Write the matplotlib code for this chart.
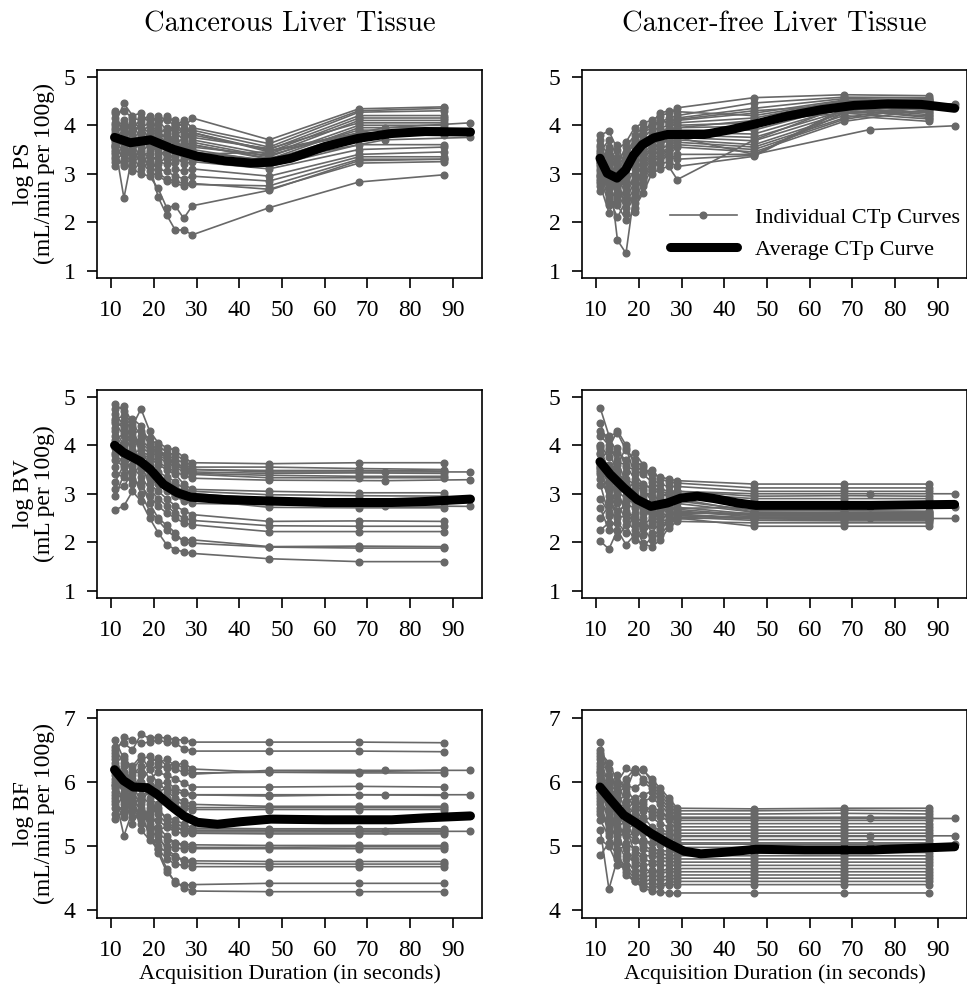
import matplotlib
matplotlib.use("Agg")
import matplotlib.pyplot as plt

plt.rcParams['font.family'] = ['Liberation Serif', 'DejaVu Serif']

# acquisition times (seconds)
T = [11, 13, 15, 17, 19, 21, 23, 25, 27, 29, 47, 68, 88]
T_LONG = [11, 13, 15, 17, 19, 21, 23, 25, 27, 29, 47, 74, 94]

# ---------------- log PS, cancerous ----------------
ps_cancer = [
    [4.25, 4.30, 4.15, 4.10, 4.20, 4.05, 4.15, 4.10, 3.95, 4.15, 3.70, 4.34, 4.38],
    [4.05, 4.45, 4.20, 4.25, 4.05, 4.20, 4.10, 4.00, 4.10, 3.95, 3.62, 4.30, 4.35],
    [3.95, 4.10, 3.90, 4.15, 4.10, 3.95, 4.20, 4.05, 3.85, 3.90, 3.55, 4.27, 4.30],
    [4.15, 3.85, 4.05, 3.95, 3.85, 4.10, 3.90, 3.95, 4.05, 3.80, 3.50, 4.20, 4.20],
    [3.85, 4.00, 3.75, 3.85, 4.00, 3.80, 3.95, 3.85, 3.70, 3.85, 3.45, 4.15, 4.15],
    [3.70, 3.95, 4.05, 3.70, 3.75, 3.90, 3.70, 3.80, 3.90, 3.70, 3.40, 4.10, 4.10],
    [4.30, 3.75, 3.85, 4.05, 3.65, 3.70, 3.85, 3.60, 3.75, 3.75, 3.52, 4.05, 4.05],
    [3.60, 3.80, 3.65, 3.55, 3.90, 3.60, 3.75, 3.70, 3.55, 3.65, 3.35, 4.00, 4.00],
    [3.90, 3.65, 3.55, 3.80, 3.50, 3.75, 3.55, 3.50, 3.65, 3.60, 3.30, 3.95, 3.95],
    [3.50, 3.70, 3.95, 3.45, 3.60, 3.50, 3.65, 3.45, 3.50, 3.55, 3.38, 3.90, 3.90],
    [3.75, 3.55, 3.45, 3.65, 3.80, 3.40, 3.45, 3.55, 3.40, 3.45, 3.28, 3.85, 3.85],
    [3.45, 3.40, 3.60, 3.35, 3.45, 3.55, 3.30, 3.40, 3.35, 3.40, 3.45, 3.82, 3.80],
    [3.35, 3.60, 3.30, 3.50, 3.30, 3.35, 3.50, 3.25, 3.30, 3.30, 3.15, 3.60, 3.60],
    [3.65, 3.25, 3.50, 3.20, 3.40, 3.25, 3.20, 3.35, 3.20, 3.25, 3.10, 3.50, 3.55],
    [3.25, 3.45, 3.20, 3.40, 3.15, 3.20, 3.35, 3.10, 3.05, 3.10, 2.95, 3.40, 3.45],
    [3.40, 3.15, 3.35, 3.10, 3.25, 3.10, 3.05, 2.95, 2.90, 2.95, 2.85, 3.35, 3.35],
    [3.15, 3.30, 3.05, 3.25, 3.05, 2.95, 2.85, 2.80, 2.75, 2.78, 2.75, 3.30, 3.30],
    [3.55, 2.50, 3.40, 3.30, 3.20, 3.00, 2.90, 2.85, 2.80, 2.80, 2.68, 3.22, 3.25],
    [3.60, 3.50, 3.45, 3.35, 3.20, 2.52, 2.15, 1.84, 1.84, 1.74, 2.30, 2.83, 2.98],
    [3.30, 3.20, 3.10, 3.00, 2.95, 2.70, 2.30, 2.34, 2.08, 2.34, 2.66, 3.27, 3.30],
]
ps_cancer_long = [
    [3.80, 4.00, 3.90, 3.95, 4.05, 3.85, 3.90, 4.00, 3.80, 3.85, 3.48, 3.95, 4.05],
    [3.55, 3.75, 3.70, 3.60, 3.75, 3.65, 3.60, 3.70, 3.50, 3.60, 3.32, 3.80, 3.88],
    [4.00, 3.85, 3.60, 3.75, 3.55, 3.80, 3.65, 3.55, 3.60, 3.50, 3.25, 3.70, 3.75],
]
ps_cancer_avg_t = [10.8, 14.5, 19.2, 24.7, 30.2, 36.4, 42.7, 47.4, 52.1, 60.0, 67.8, 75.6, 83.5, 94.1]
ps_cancer_avg = [3.75, 3.64, 3.70, 3.50, 3.36, 3.27, 3.22, 3.24, 3.32, 3.56, 3.73, 3.83, 3.87, 3.86]

# ---------------- log PS, cancer-free ----------------
ps_free = [
    [3.80, 3.88, 3.50, 3.65, 3.95, 4.05, 4.10, 4.20, 4.25, 4.36, 4.57, 4.63, 4.61],
    [3.60, 3.40, 3.20, 3.55, 3.80, 3.95, 4.00, 4.05, 4.15, 4.20, 4.46, 4.58, 4.57],
    [3.45, 3.70, 3.35, 3.30, 3.70, 3.85, 3.95, 4.10, 4.05, 4.15, 4.35, 4.55, 4.53],
    [3.30, 3.15, 3.60, 3.10, 3.55, 3.75, 3.90, 3.95, 4.00, 4.10, 4.25, 4.52, 4.50],
    [3.20, 3.50, 3.00, 3.40, 3.45, 3.70, 3.80, 3.85, 3.95, 4.05, 4.15, 4.50, 4.46],
    [3.10, 2.90, 3.25, 2.95, 3.30, 3.60, 3.75, 3.90, 3.85, 4.00, 4.05, 4.48, 4.41],
    [3.00, 3.25, 2.80, 3.20, 3.20, 3.50, 3.65, 3.75, 3.90, 3.95, 3.98, 4.45, 4.36],
    [2.90, 2.70, 3.05, 2.75, 3.10, 3.40, 3.60, 3.70, 3.80, 3.90, 3.90, 4.40, 4.31],
    [3.35, 3.05, 2.60, 3.00, 3.00, 3.30, 3.50, 3.65, 3.70, 3.85, 3.82, 4.36, 4.26],
    [2.80, 3.30, 2.90, 2.60, 2.90, 3.20, 3.45, 3.55, 3.75, 3.80, 3.75, 4.30, 4.19],
    [3.70, 2.80, 2.70, 2.85, 2.80, 3.10, 3.35, 3.50, 3.60, 3.75, 3.68, 4.25, 4.13],
    [2.65, 3.00, 2.50, 2.40, 2.70, 3.05, 3.30, 3.40, 3.55, 3.70, 3.60, 4.20, 4.08],
    [3.15, 2.60, 2.95, 2.20, 2.55, 2.95, 3.25, 3.35, 3.50, 3.65, 3.55, 4.15, 4.45],
    [2.95, 2.35, 2.75, 2.50, 2.40, 2.85, 3.15, 3.30, 3.45, 3.60, 3.50, 4.12, 4.40],
    [3.55, 3.20, 2.35, 2.05, 2.22, 2.75, 3.10, 3.25, 3.40, 3.55, 3.45, 4.08, 4.33],
    [2.75, 2.20, 2.55, 2.30, 2.60, 3.15, 3.40, 3.45, 3.30, 3.40, 3.40, 4.25, 4.28],
    [3.40, 2.50, 2.10, 2.45, 2.85, 3.25, 3.55, 3.60, 3.35, 3.30, 3.38, 4.35, 4.22],
    [2.85, 3.10, 1.63, 1.36, 2.65, 2.90, 3.20, 3.20, 3.25, 3.15, 3.36, 4.32, 4.16],
    [3.05, 2.45, 2.40, 2.70, 2.30, 2.60, 3.00, 3.10, 3.15, 2.88, 3.70, 4.40, 4.50],
    [3.25, 2.75, 2.85, 3.35, 3.65, 3.85, 4.05, 4.25, 4.30, 4.28, 4.20, 4.50, 4.55],
]
ps_free_long = [
    [3.50, 3.30, 3.10, 3.45, 3.70, 3.90, 4.00, 4.10, 4.05, 4.12, 4.30, 4.45, 4.44],
    [3.25, 3.55, 3.15, 2.90, 3.35, 3.55, 3.70, 3.80, 3.85, 3.95, 4.10, 4.29, 4.37],
    [2.95, 2.70, 3.00, 2.65, 2.95, 3.35, 3.55, 3.60, 3.70, 3.75, 3.40, 3.91, 3.99],
]
ps_free_avg_t = [10.9, 12.6, 14.9, 16.9, 18.8, 20.8, 23.5, 26.7, 29.8, 35.3, 41.5, 47.4, 54.8, 62.6, 70.4, 78.3, 86.1, 93.9]
ps_free_avg = [3.32, 3.01, 2.91, 3.08, 3.39, 3.60, 3.74, 3.81, 3.81, 3.81, 3.91, 4.03, 4.19, 4.32, 4.41, 4.44, 4.43, 4.35]

# ---------------- log BV, cancerous ----------------
bv_cancer = [
    [4.85, 4.70, 4.40, 4.75, 4.30, 4.05, 3.95, 3.90, 3.75, 3.64, 3.62, 3.64, 3.64],
    [4.75, 4.80, 4.45, 4.20, 4.15, 4.00, 3.85, 3.80, 3.70, 3.55, 3.55, 3.52, 3.50],
    [4.65, 4.40, 4.55, 4.40, 4.05, 3.90, 3.80, 3.70, 3.65, 3.50, 3.48, 3.48, 3.47],
    [4.55, 4.60, 4.25, 4.30, 4.00, 3.85, 3.75, 3.65, 3.55, 3.45, 3.42, 3.43, 3.42],
    [4.45, 4.20, 4.30, 3.95, 3.85, 3.95, 3.70, 3.60, 3.50, 3.42, 3.38, 3.36, 3.36],
    [4.35, 4.50, 4.10, 4.05, 3.90, 3.75, 3.65, 3.55, 3.45, 3.40, 3.33, 3.33, 3.33],
    [4.20, 3.95, 4.35, 3.80, 3.75, 3.60, 3.50, 3.40, 3.20, 3.09, 3.05, 3.02, 3.02],
    [4.10, 4.25, 3.85, 3.90, 3.60, 3.45, 3.35, 3.25, 3.10, 3.05, 2.98, 2.96, 2.95],
    [3.95, 3.70, 4.00, 3.65, 3.70, 3.35, 3.25, 3.15, 3.05, 3.00, 2.90, 2.88, 2.88],
    [3.85, 4.05, 3.60, 3.75, 3.45, 3.30, 3.15, 3.05, 3.00, 2.98, 2.82, 2.81, 2.81],
    [3.70, 3.55, 3.75, 3.50, 3.30, 3.20, 3.05, 2.95, 2.90, 2.88, 2.72, 2.71, 2.71],
    [3.55, 3.80, 3.40, 3.60, 3.20, 3.05, 2.90, 2.75, 2.65, 2.57, 2.43, 2.44, 2.43],
    [3.40, 3.35, 3.55, 3.35, 3.10, 2.90, 2.75, 2.60, 2.50, 2.45, 2.34, 2.33, 2.33],
    [3.25, 3.60, 3.30, 3.15, 2.95, 2.75, 2.60, 2.50, 2.40, 2.36, 2.22, 2.22, 2.22],
    [3.10, 3.15, 3.45, 3.00, 2.65, 2.45, 2.25, 2.10, 2.05, 2.05, 1.91, 1.92, 1.91],
    [2.95, 3.40, 3.20, 3.25, 2.80, 2.50, 2.35, 2.20, 2.00, 1.98, 1.90, 1.88, 1.88],
    [2.67, 2.75, 3.05, 2.85, 2.50, 2.20, 1.95, 1.85, 1.80, 1.77, 1.66, 1.60, 1.60],
]
bv_cancer_long = [
    [4.50, 4.35, 4.15, 4.10, 3.95, 3.80, 3.70, 3.62, 3.55, 3.50, 3.45, 3.45, 3.45],
    [4.30, 4.00, 4.20, 3.85, 3.80, 3.65, 3.55, 3.45, 3.38, 3.32, 3.28, 3.27, 3.29],
    [3.80, 3.65, 3.90, 3.55, 3.40, 3.25, 3.10, 2.95, 2.85, 2.80, 2.78, 2.75, 2.74],
]
bv_cancer_avg_t = [10.8, 12.9, 16.8, 19.2, 22.3, 25.5, 28.6, 36.4, 47.4, 60.0, 75.7, 83.5, 94.1]
bv_cancer_avg = [4.00, 3.85, 3.67, 3.50, 3.19, 3.02, 2.93, 2.88, 2.85, 2.82, 2.82, 2.84, 2.89]

# ---------------- log BV, cancer-free ----------------
bv_free = [
    [4.76, 4.20, 4.25, 3.90, 3.70, 3.55, 3.40, 3.35, 3.30, 3.27, 3.20, 3.20, 3.20],
    [4.45, 3.95, 4.30, 4.00, 3.60, 3.45, 3.50, 3.30, 3.25, 3.22, 3.12, 3.12, 3.12],
    [4.30, 4.15, 3.85, 3.70, 3.85, 3.60, 3.30, 3.20, 3.15, 3.15, 3.05, 3.05, 3.05],
    [4.00, 3.75, 3.95, 3.55, 3.50, 3.40, 3.25, 3.10, 3.05, 3.05, 2.95, 2.96, 2.95],
    [3.85, 3.50, 3.60, 3.95, 3.40, 3.20, 3.10, 3.00, 2.95, 2.95, 2.78, 2.76, 2.74],
    [3.70, 3.90, 3.40, 3.30, 3.20, 3.05, 2.95, 2.90, 2.85, 2.85, 2.66, 2.65, 2.64],
    [3.55, 3.30, 3.70, 3.20, 3.00, 2.90, 3.05, 2.80, 2.75, 2.80, 2.62, 2.60, 2.60],
    [3.40, 3.60, 3.15, 3.45, 2.85, 2.75, 2.70, 2.85, 2.70, 2.72, 2.58, 2.57, 2.57],
    [3.99, 3.10, 3.30, 2.95, 3.10, 2.65, 2.55, 2.60, 2.75, 2.68, 2.55, 2.54, 2.53],
    [3.81, 3.35, 2.90, 2.80, 2.70, 2.95, 2.45, 2.50, 2.55, 2.65, 2.52, 2.52, 2.50],
    [3.54, 2.85, 3.05, 2.60, 2.55, 2.40, 2.80, 2.65, 2.50, 2.62, 2.56, 2.55, 2.55],
    [3.50, 3.05, 2.65, 2.75, 2.40, 2.30, 2.35, 2.70, 2.60, 2.60, 2.60, 2.58, 2.59],
    [3.19, 2.55, 2.80, 2.45, 2.25, 2.50, 2.20, 2.40, 2.65, 2.58, 2.50, 2.49, 2.48],
    [2.50, 2.75, 2.40, 2.20, 2.60, 2.15, 2.40, 2.25, 2.45, 2.55, 2.48, 2.47, 2.46],
    [2.25, 2.40, 2.10, 2.35, 2.05, 2.30, 2.05, 2.30, 2.40, 2.52, 2.45, 2.44, 2.44],
    [2.02, 1.86, 2.25, 1.95, 2.15, 1.90, 2.10, 2.15, 2.35, 2.50, 2.33, 2.33, 2.33],
    [3.60, 3.20, 3.00, 2.65, 2.35, 1.98, 1.90, 2.05, 2.30, 2.43, 2.40, 2.40, 2.40],
    [3.95, 3.45, 3.50, 3.10, 2.90, 2.60, 2.65, 2.55, 2.90, 2.90, 2.62, 2.62, 2.62],
    [3.30, 2.95, 2.55, 2.85, 2.95, 2.80, 2.60, 2.95, 3.00, 3.00, 2.90, 2.90, 2.90],
    [2.90, 2.60, 3.20, 3.05, 3.25, 3.10, 2.85, 2.45, 2.45, 2.48, 2.52, 2.52, 2.51],
]
bv_free_long = [
    [4.20, 4.00, 3.65, 3.60, 3.30, 3.15, 3.15, 3.05, 3.00, 3.05, 3.00, 3.00, 3.00],
    [3.45, 3.25, 3.05, 2.90, 2.80, 2.70, 2.75, 2.70, 2.65, 2.70, 2.72, 2.72, 2.72],
    [2.70, 2.25, 2.50, 2.55, 2.45, 2.35, 2.50, 2.35, 2.45, 2.55, 2.50, 2.49, 2.49],
]
bv_free_avg_t = [10.9, 13.3, 16.5, 19.6, 22.8, 26.7, 29.8, 33.7, 37.7, 43.1, 47.4, 58.8, 74.4, 93.9]
bv_free_avg = [3.66, 3.40, 3.12, 2.88, 2.74, 2.81, 2.91, 2.95, 2.90, 2.81, 2.76, 2.76, 2.76, 2.78]

# ---------------- log BF, cancerous ----------------
bf_cancer = [
    [6.55, 6.60, 6.50, 6.74, 6.68, 6.70, 6.68, 6.66, 6.65, 6.62, 6.62, 6.62, 6.61],
    [6.45, 6.70, 6.65, 6.60, 6.62, 6.65, 6.62, 6.60, 6.52, 6.48, 6.48, 6.48, 6.47],
    [6.30, 6.40, 6.20, 6.35, 6.40, 6.30, 6.35, 6.25, 6.30, 6.20, 6.15, 6.16, 6.18],
    [6.65, 6.35, 6.15, 6.15, 6.30, 6.38, 6.25, 6.28, 6.22, 6.14, 6.15, 6.14, 6.14],
    [6.20, 6.00, 6.10, 6.25, 6.05, 6.15, 6.10, 6.05, 5.98, 5.92, 5.92, 5.93, 5.92],
    [6.10, 6.25, 5.95, 6.00, 6.20, 5.95, 6.00, 5.90, 5.85, 5.80, 5.78, 5.80, 5.79],
    [6.00, 5.85, 6.05, 5.90, 5.85, 6.00, 5.85, 5.75, 5.70, 5.65, 5.62, 5.62, 5.62],
    [5.95, 6.15, 5.80, 5.70, 5.95, 5.80, 5.75, 5.70, 5.65, 5.60, 5.60, 5.60, 5.60],
    [5.85, 5.70, 5.90, 6.10, 5.75, 5.65, 5.70, 5.62, 5.60, 5.57, 5.57, 5.57, 5.57],
    [6.35, 5.95, 5.60, 5.80, 5.65, 5.55, 5.45, 5.40, 5.35, 5.28, 5.27, 5.27, 5.27],
    [5.80, 6.05, 5.75, 5.55, 5.50, 5.60, 5.40, 5.35, 5.30, 5.25, 5.25, 5.25, 5.25],
    [5.70, 5.50, 5.85, 5.65, 5.90, 5.40, 5.30, 5.28, 5.25, 5.22, 5.22, 5.22, 5.22],
    [5.60, 5.80, 5.45, 5.50, 5.35, 5.25, 5.30, 5.22, 5.20, 5.20, 5.19, 5.19, 5.19],
    [6.05, 5.60, 5.70, 5.45, 5.40, 5.20, 5.10, 5.05, 5.03, 5.02, 5.01, 5.01, 5.01],
    [5.75, 5.16, 5.55, 5.35, 5.55, 5.30, 5.15, 5.05, 5.00, 4.98, 4.98, 4.99, 4.99],
    [5.50, 5.65, 5.65, 5.75, 5.30, 5.10, 5.00, 4.97, 4.96, 4.96, 4.96, 4.96, 4.96],
    [6.25, 5.90, 5.65, 5.45, 5.20, 5.00, 4.90, 4.82, 4.78, 4.77, 4.76, 4.76, 4.76],
    [5.90, 5.75, 5.35, 5.60, 5.45, 5.15, 4.95, 4.85, 4.78, 4.73, 4.72, 4.72, 4.72],
    [5.42, 5.55, 5.85, 5.25, 5.10, 4.95, 4.80, 4.72, 4.70, 4.68, 4.68, 4.68, 4.68],
    [6.40, 6.00, 5.75, 5.55, 5.15, 4.95, 4.65, 4.42, 4.39, 4.40, 4.42, 4.42, 4.42],
    [6.15, 5.80, 5.95, 5.70, 5.25, 4.90, 4.60, 4.45, 4.35, 4.30, 4.29, 4.29, 4.29],
]
bf_cancer_long = [
    [6.50, 6.30, 6.25, 6.40, 6.20, 6.25, 6.22, 6.20, 6.15, 6.12, 6.18, 6.18, 6.18],
    [5.95, 6.10, 5.85, 5.95, 5.95, 5.85, 5.90, 5.85, 5.82, 5.80, 5.80, 5.80, 5.80],
    [5.65, 5.45, 5.60, 5.40, 5.60, 5.50, 5.35, 5.30, 5.25, 5.24, 5.24, 5.23, 5.23],
]
bf_cancer_avg_t = [10.8, 12.9, 15.2, 18.4, 20.7, 23.9, 27.0, 30.2, 34.9, 40.4, 47.4, 60.0, 75.7, 83.5, 94.1]
bf_cancer_avg = [6.19, 6.02, 5.92, 5.91, 5.81, 5.63, 5.47, 5.37, 5.34, 5.38, 5.42, 5.41, 5.41, 5.44, 5.47]

# ---------------- log BF, cancer-free ----------------
bf_free = [
    [6.62, 6.10, 5.90, 6.05, 6.20, 6.18, 6.05, 5.90, 5.75, 5.59, 5.58, 5.59, 5.59],
    [6.45, 6.30, 6.00, 6.21, 6.15, 6.20, 6.00, 5.85, 5.70, 5.55, 5.55, 5.56, 5.55],
    [6.35, 5.95, 6.10, 5.85, 6.20, 6.05, 5.95, 5.80, 5.65, 5.50, 5.50, 5.51, 5.50],
    [6.25, 6.20, 5.80, 5.95, 5.90, 6.00, 5.90, 5.75, 5.60, 5.45, 5.45, 5.45, 5.45],
    [6.15, 5.85, 5.95, 5.70, 5.75, 5.80, 5.85, 5.70, 5.55, 5.40, 5.40, 5.40, 5.40],
    [6.05, 6.00, 5.70, 5.80, 5.60, 5.70, 5.75, 5.65, 5.50, 5.35, 5.35, 5.35, 5.35],
    [5.95, 5.70, 5.85, 5.55, 5.70, 5.55, 5.60, 5.55, 5.45, 5.30, 5.30, 5.30, 5.30],
    [5.90, 5.90, 5.60, 5.65, 5.50, 5.60, 5.50, 5.45, 5.40, 5.25, 5.25, 5.25, 5.25],
    [5.85, 5.55, 5.75, 5.45, 5.60, 5.40, 5.45, 5.35, 5.30, 5.20, 5.20, 5.20, 5.20],
    [5.80, 5.75, 5.50, 5.60, 5.40, 5.45, 5.30, 5.25, 5.22, 5.15, 5.15, 5.15, 5.15],
    [6.30, 5.60, 5.65, 5.35, 5.45, 5.30, 5.20, 5.15, 5.12, 5.10, 5.10, 5.10, 5.10],
    [5.75, 5.40, 5.45, 5.50, 5.25, 5.20, 5.15, 5.10, 5.08, 5.05, 5.05, 5.05, 5.05],
    [6.50, 6.05, 5.55, 5.25, 5.35, 5.10, 5.05, 5.02, 5.00, 4.98, 4.98, 4.98, 4.98],
    [5.70, 5.50, 5.30, 5.40, 5.10, 5.00, 4.95, 4.93, 4.92, 4.90, 4.90, 4.90, 4.90],
    [6.10, 5.80, 5.35, 5.15, 5.20, 4.95, 4.90, 4.88, 4.86, 4.85, 4.85, 4.85, 4.85],
    [5.65, 5.25, 5.40, 5.05, 4.95, 4.85, 4.85, 4.82, 4.81, 4.80, 4.80, 4.80, 4.80],
    [6.40, 5.65, 5.20, 5.30, 4.90, 4.80, 4.75, 4.77, 4.76, 4.75, 4.75, 4.75, 4.75],
    [5.55, 5.35, 5.10, 4.95, 4.80, 4.70, 4.72, 4.70, 4.70, 4.70, 4.70, 4.70, 4.70],
    [6.00, 5.45, 5.25, 4.85, 4.75, 4.65, 4.60, 4.62, 4.64, 4.65, 4.65, 4.65, 4.65],
    [5.40, 5.15, 4.95, 5.00, 4.70, 4.55, 4.62, 4.58, 4.60, 4.60, 4.60, 4.60, 4.60],
    [6.20, 5.70, 5.05, 4.80, 4.60, 4.50, 4.55, 4.52, 4.53, 4.55, 4.55, 4.55, 4.55],
    [5.25, 4.33, 4.80, 4.70, 4.55, 4.45, 4.48, 4.47, 4.48, 4.50, 4.50, 4.50, 4.50],
    [5.10, 5.00, 4.70, 4.65, 4.50, 4.40, 4.42, 4.40, 4.43, 4.45, 4.45, 4.45, 4.45],
    [4.86, 5.05, 4.85, 4.55, 4.45, 4.38, 4.35, 4.38, 4.40, 4.40, 4.40, 4.40, 4.40],
    [5.60, 5.20, 4.90, 4.60, 4.45, 4.35, 4.30, 4.28, 4.27, 4.27, 4.27, 4.27, 4.27],
]
bf_free_long = [
    [6.15, 6.05, 5.95, 5.90, 5.70, 5.65, 5.55, 5.50, 5.45, 5.43, 5.43, 5.43, 5.43],
    [5.85, 5.65, 5.50, 5.45, 5.35, 5.30, 5.25, 5.20, 5.18, 5.16, 5.16, 5.16, 5.16],
    [5.50, 5.30, 5.15, 5.20, 5.10, 5.05, 5.05, 5.04, 5.03, 5.03, 5.03, 5.03, 5.03],
]
bf_free_avg_t = [10.9, 13.4, 16.5, 19.6, 22.8, 26.7, 30.6, 34.5, 39.2, 47.4, 58.8, 74.4, 93.9]
bf_free_avg = [5.92, 5.72, 5.48, 5.35, 5.20, 5.05, 4.92, 4.88, 4.90, 4.95, 4.94, 4.94, 4.99]

col_titles = ["Cancerous Liver Tissue", "Cancer-free Liver Tissue"]
row_labels = ["log PS\n(mL/min per 100g)", "log BV\n(mL per 100g)", "log BF\n(mL/min per 100g)"]
row_ylims = [(0.85, 5.14), (0.85, 5.14), (3.88, 7.12)]
row_yticks = [[1, 2, 3, 4, 5], [1, 2, 3, 4, 5], [4, 5, 6, 7]]

panels = [
    [(ps_cancer, ps_cancer_long, ps_cancer_avg_t, ps_cancer_avg),
     (ps_free, ps_free_long, ps_free_avg_t, ps_free_avg)],
    [(bv_cancer, bv_cancer_long, bv_cancer_avg_t, bv_cancer_avg),
     (bv_free, bv_free_long, bv_free_avg_t, bv_free_avg)],
    [(bf_cancer, bf_cancer_long, bf_cancer_avg_t, bf_cancer_avg),
     (bf_free, bf_free_long, bf_free_avg_t, bf_free_avg)],
]

GREY = '#686868'
W, H = 967, 992
fig = plt.figure(figsize=(W / 100, H / 100), dpi=100)

lefts = [97, 582]
tops = [70, 390, 710]
aw, ah = 385, 208

for r in range(3):
    for c in range(2):
        ax = fig.add_axes([lefts[c] / W, 1 - (tops[r] + ah) / H, aw / W, ah / H])
        curves, curves_long, avg_t, avg = panels[r][c]
        for cv in curves:
            ind, = ax.plot(T, cv, '-o', color=GREY, lw=1.2, ms=4.8, zorder=2)
        for cv in curves_long:
            ax.plot(T_LONG, cv, '-o', color=GREY, lw=1.2, ms=4.8, zorder=2)
        av, = ax.plot(avg_t, avg, color='black', lw=6.5, solid_capstyle='round',
                      solid_joinstyle='round', zorder=3)
        ax.set_xlim(6.7, 96.8)
        ax.set_ylim(*row_ylims[r])
        ax.set_xticks(range(10, 100, 10))
        ax.set_yticks(row_yticks[r])
        ax.tick_params(direction='out', length=7.5, width=1.2, pad=8, labelsize=17)
        for sp in ax.spines.values():
            sp.set_linewidth(1.2)
        if r == 2:
            ax.set_xlabel("Acquisition Duration (in seconds)", fontsize=16, labelpad=3)
        if r == 0 and c == 1:
            ax.legend([ind, av], ["Individual CTp Curves", "Average CTp Curve"],
                      loc='upper left', bbox_to_anchor=(0.229, 0.34), frameon=False,
                      handlelength=3.0, handletextpad=0.8, labelspacing=0.5,
                      borderpad=0, borderaxespad=0, fontsize=16)
        if r == 0:
            fig.text((lefts[c] + aw / 2) / W, 1 - 31 / H, col_titles[c],
                     family='cmr10', fontsize=20.5, ha='center', va='baseline')
    fig.text(34 / W, 1 - (tops[r] + ah / 2) / H, row_labels[r], rotation=90,
             ha='center', va='center', multialignment='center', fontsize=17,
             linespacing=1.0)

fig.savefig("out.png", dpi=100)
